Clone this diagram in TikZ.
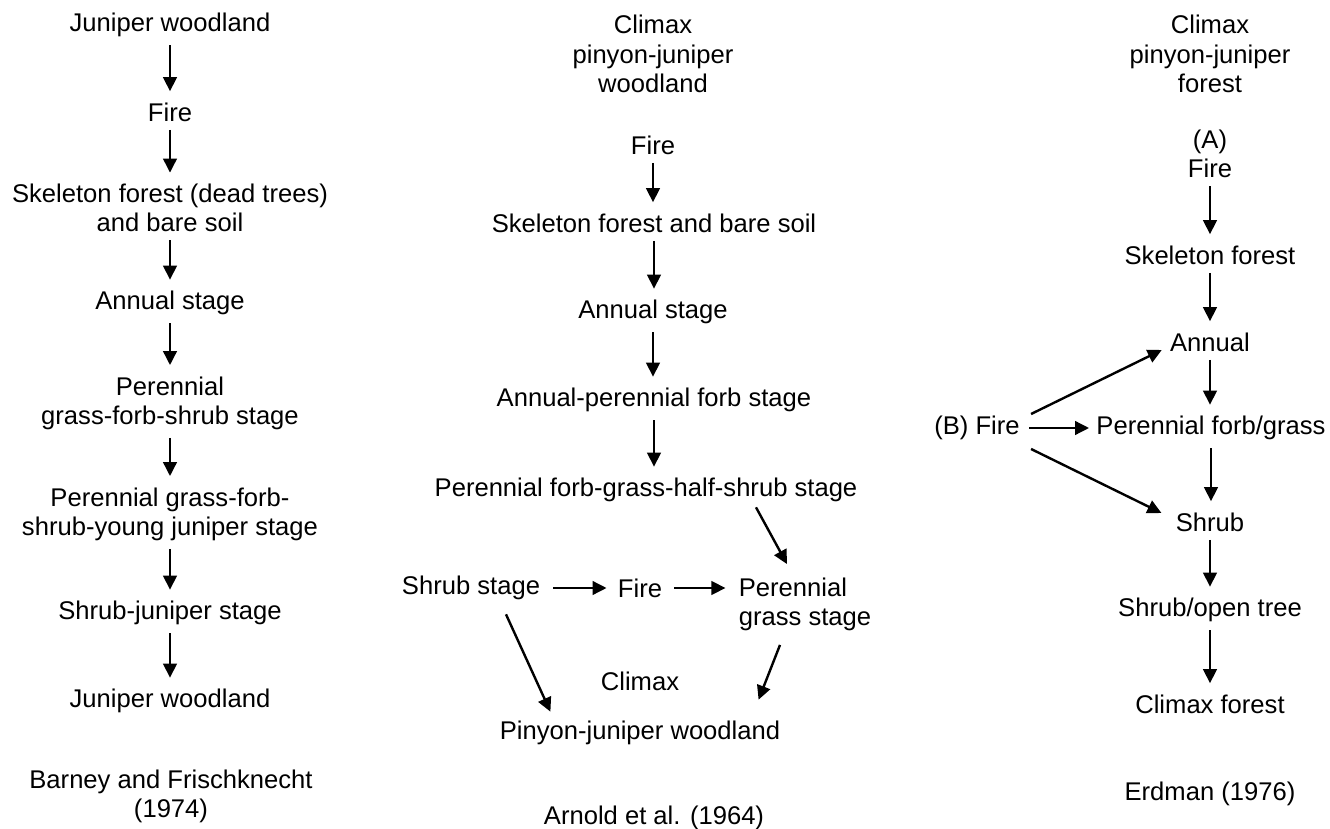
\documentclass[tikz,border=0pt]{standalone}
\usepackage{fontspec}
\setmainfont{Liberation Sans}
\usetikzlibrary{arrows.meta,calc}
\begin{document}
\begin{tikzpicture}[x=0.5pt,y=-0.5pt,
  lbl/.style={inner sep=0pt, align=center, font=\fontsize{12.8}{14.6}\selectfont, text=black},
  arr/.style={-{Triangle[length=7pt,width=6.8pt]}, line width=1.2pt, draw=black},
  varr/.style={arr, shorten <=4pt, shorten >=5.5pt}]
\useasboundingbox (0,0) rectangle (1330,829);

% ---------- left column ----------
\node[lbl] (L1) at (170,25) {Juniper woodland};
\node[lbl] (L2) at (170,112) {Fire};
\node[lbl] (L3) at (170,208) {Skeleton forest (dead trees)\\and bare soil};
\node[lbl] (L4) at (170,303) {Annual stage};
\node[lbl] (L5) at (170,403) {Perennial\\grass-forb-shrub stage};
\node[lbl] (L6) at (170,514) {Perennial grass-forb-\\shrub-young juniper stage};
\node[lbl] (L7) at (170,613) {Shrub-juniper stage};
\node[lbl] (L8) at (170,701) {Juniper woodland};
\node[lbl] (L9) at (171,796) {Barney and Frischknecht\\(1974)};
\foreach \a/\b in {L1/L2,L2/L3,L3/L4,L4/L5,L5/L6,L6/L7,L7/L8}
  \draw[varr] (\a.south) -- (\a.south |- \b.north);

% ---------- middle column ----------
\node[lbl] (M1) at (653,54) {Climax\\pinyon-juniper\\woodland};
\node[lbl] (M2) at (653,145) {Fire};
\node[lbl] (M3) at (654,223) {Skeleton forest and bare soil};
\node[lbl] (M4) at (653,312) {Annual stage};
\node[lbl] (M5) at (654,400) {Annual-perennial forb stage};
\node[lbl] (M6) at (646,490) {Perennial forb-grass-half-shrub stage};
\node[lbl] (M7) at (471,588) {Shrub stage};
\node[lbl] (M8) at (640,588) {Fire};
\node[lbl, align=left] (M9) at (805,604) {Perennial\\grass stage};
\node[lbl] (M10) at (640,681) {Climax};
\node[lbl] (M11) at (640,733) {Pinyon-juniper woodland};
\node[lbl] (M12) at (654,818) {Arnold et al. (1964)};
\draw[varr] (M2.south) -- (M2.south |- M3.north);
\draw[varr] (M3.south) -- (M3.south |- M4.north);
\draw[varr] (M4.south) -- (M4.south |- M5.north);
\draw[varr] (M5.south) -- (M5.south |- M6.north);
\draw[arr] ($(M6.south)+(110,5)$) -- ($(M9.north)+(-18,-13)$);
\draw[arr, shorten <=6.5pt, shorten >=5.5pt] (M7.east) -- (M8.west);
\draw[arr, shorten <=6pt, shorten >=6.5pt] (M8.east) -- (M8.east -| M9.west);
\draw[arr] ($(M7.south)+(35,14)$) -- ($(M11.north west)+(51,-9)$);
\draw[arr] ($(M9.south)+(-25,14)$) -- ($(M11.north east)+(-22,-21)$);

% ---------- right column ----------
\node[lbl] (R1) at (1210,54) {Climax\\pinyon-juniper\\forest};
\node[lbl] (R2) at (1210,154) {(A)\\Fire};
\node[lbl] (R3) at (1210,255) {Skeleton forest};
\node[lbl] (R4) at (1210,342) {Annual};
\node[lbl] (R5) at (977,428) {(B) Fire};
\node[lbl] (R6) at (1211,428) {Perennial forb/grass};
\node[lbl] (R7) at (1210,522) {Shrub};
\node[lbl] (R8) at (1210,610) {Shrub/open tree};
\node[lbl] (R9) at (1210,704) {Climax forest};
\node[lbl] (R10) at (1210,794) {Erdman (1976)};
\foreach \a/\b in {R2/R3,R3/R4,R4/R6,R6/R7,R7/R8,R8/R9}
  \draw[varr] (\a.south) -- (\a.south |- \b.north);
\draw[arr, shorten <=4.5pt, shorten >=3.5pt] (R5.east) -- (R5.east -| R6.west);
\draw[arr] ($(R5.east)+(11,-14)$) -- ($(R4.west)+(-8,8)$);
\draw[arr] ($(R5.east)+(11,21)$) -- ($(R7.west)+(-14,-9)$);
\end{tikzpicture}
\end{document}
